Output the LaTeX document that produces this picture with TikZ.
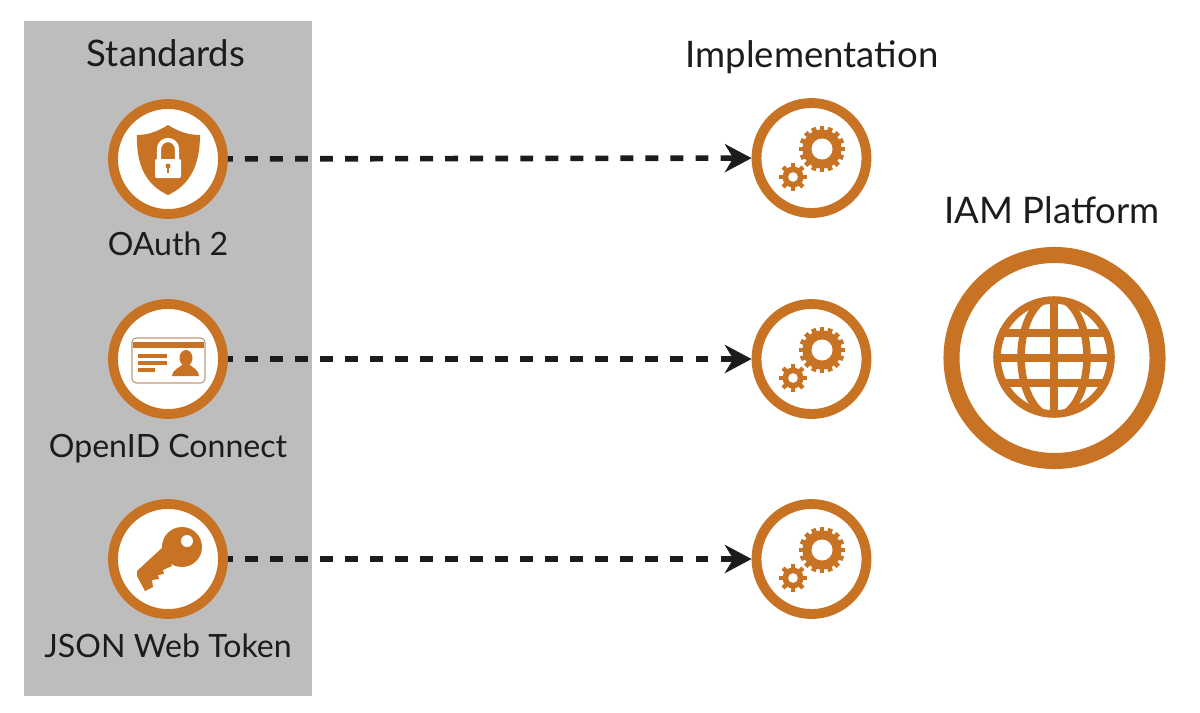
\documentclass[tikz,border=0pt]{standalone}
\usepackage{fontspec}
\setmainfont{Lato}
\usetikzlibrary{arrows.meta}
\definecolor{myorange}{RGB}{200,114,36}
\definecolor{mygrey}{RGB}{189,189,189}
\definecolor{myink}{RGB}{28,28,28}
\tikzset{
    gearpic/.pic={
        % teeth, then body, then hole
        \foreach \a in {0,22.5,...,350} {
            \fill[myorange,rotate=\a] (-2.4,17) rectangle (2.4,23);
        }
        \fill[myorange] (0,0) circle (19.5);
        \fill[white] (0,0) circle (10.5);
    },
    smallgearpic/.pic={
        \foreach \a in {0,45,...,350} {
            \fill[myorange,rotate=\a] (-2.2,8) rectangle (2.2,14);
        }
        \fill[myorange] (0,0) circle (10.5);
        \fill[white] (0,0) circle (4.8);
    },
}
\begin{document}
\begin{tikzpicture}[x=0.025cm,y=-0.025cm,
    ring/.style={circle,draw=myorange,fill=white,line width=7pt,minimum size=2.75cm,inner sep=0pt},
    label/.style={text=myink,font=\fontsize{22.8}{27}\selectfont,inner sep=0pt},
    title/.style={text=myink,font=\fontsize{26}{31}\selectfont,inner sep=0pt},
    link/.style={-{Stealth[length=19pt,width=20pt,inset=6pt]},line width=4pt,myink,dash pattern=on 9.2pt off 8.6pt,dash phase=5.7pt},
    iconline/.style={myorange,line width=2.7pt},
    globeline/.style={myorange,line width=5.4pt}]
    \useasboundingbox (0,0) rectangle (1200,712);
    \fill[mygrey] (24,21) rectangle (312,696);
    % Titles
    \node[title] (standards) at (166,53) {Standards};
    \node[title] (implementation) at (812,57.5) {Implementation};
    \node[title] (iam) at (1052,210) {IAM Platform};
    % Standards column
    \node[ring] (oauth) at (168,159) {};
    \node[ring] (openid) at (168,359) {};
    \node[ring] (jwt) at (168,559) {};
    \node[label] (oauthlabel) at (168,244) {OAuth 2};
    \node[label] (openidlabel) at (168,448.5) {OpenID Connect};
    \node[label] (jwtlabel) at (168,646) {JSON Web Token};
    % Implementation column
    \foreach \n/\y in {implA/158,implB/359,implC/559} {
        \node[ring] (\n) at (811.5,\y) {};
        \pic at (822,\y-9) {gearpic};
        \pic at (793,\y+19) {smallgearpic};
    }
    % Arrows from standards to implementation
    \draw[link] (oauth) -- (implA);
    \draw[link] (openid) -- (implB);
    \draw[link] (jwt) -- (implC);
    % Platform
    \node[circle,draw=myorange,fill=white,line width=11.4pt,minimum size=5.15cm,inner sep=0pt] (platform) at (1054.5,358) {};
    \draw[globeline] (1054,357) circle (57);
    \begin{scope}
        \clip (1054,357) circle (57);
        \draw[globeline] (1054,296) -- (1054,418);
        \foreach \y in {-24,1,26} {
            \draw[globeline] (990,357+\y) -- (1118,357+\y);
        }
        \draw[globeline] (1054,357) ellipse (33 and 60);
    \end{scope}
    % Shield with lock
    \fill[myorange] (168,125) .. controls (157,132) and (147,135) .. (137,135)
        .. controls (136,165) and (146,185) .. (168,195)
        .. controls (190,185) and (200,165) .. (200,135)
        .. controls (189,135) and (179,132) .. (168,125) -- cycle;
    \draw[white,line width=3pt] (159,160) -- (159,149) arc[start angle=180,end angle=360,radius=9] -- (177,160);
    \fill[white,rounded corners=1pt] (155,159) rectangle (181,178);
    \fill[myorange] (168,166) circle (2.5);
    \fill[myorange] (167,166) rectangle (169,173);
    % Id card
    \draw[myorange!45!mygrey,line width=0.8pt,rounded corners=3pt] (132,338) rectangle (205,383);
    \fill[myorange] (133,342) rectangle (204,348);
    \draw[iconline] (138,356) -- (167,356);
    \draw[iconline] (138,363) -- (167,363);
    \draw[iconline] (138,370) -- (155,370);
    \fill[myorange] (186,358) ellipse (6.5 and 8);
    \fill[myorange] (172,376) .. controls (173,369) and (179,368) .. (182,365)
        -- (190,365) .. controls (193,368) and (198,369) .. (199,376) -- cycle;
    % Key
    \fill[myorange] (182,547) circle (20);
    \fill[myorange] (164,546) -- (137,571) -- (137,576) -- (145,591) -- (153,587) -- (152,580)
        -- (159,579) -- (158,575) -- (164,574) -- (163,570) -- (172,566) -- cycle;
    \fill[white] (187,541) circle (6);
\end{tikzpicture}
\end{document}
